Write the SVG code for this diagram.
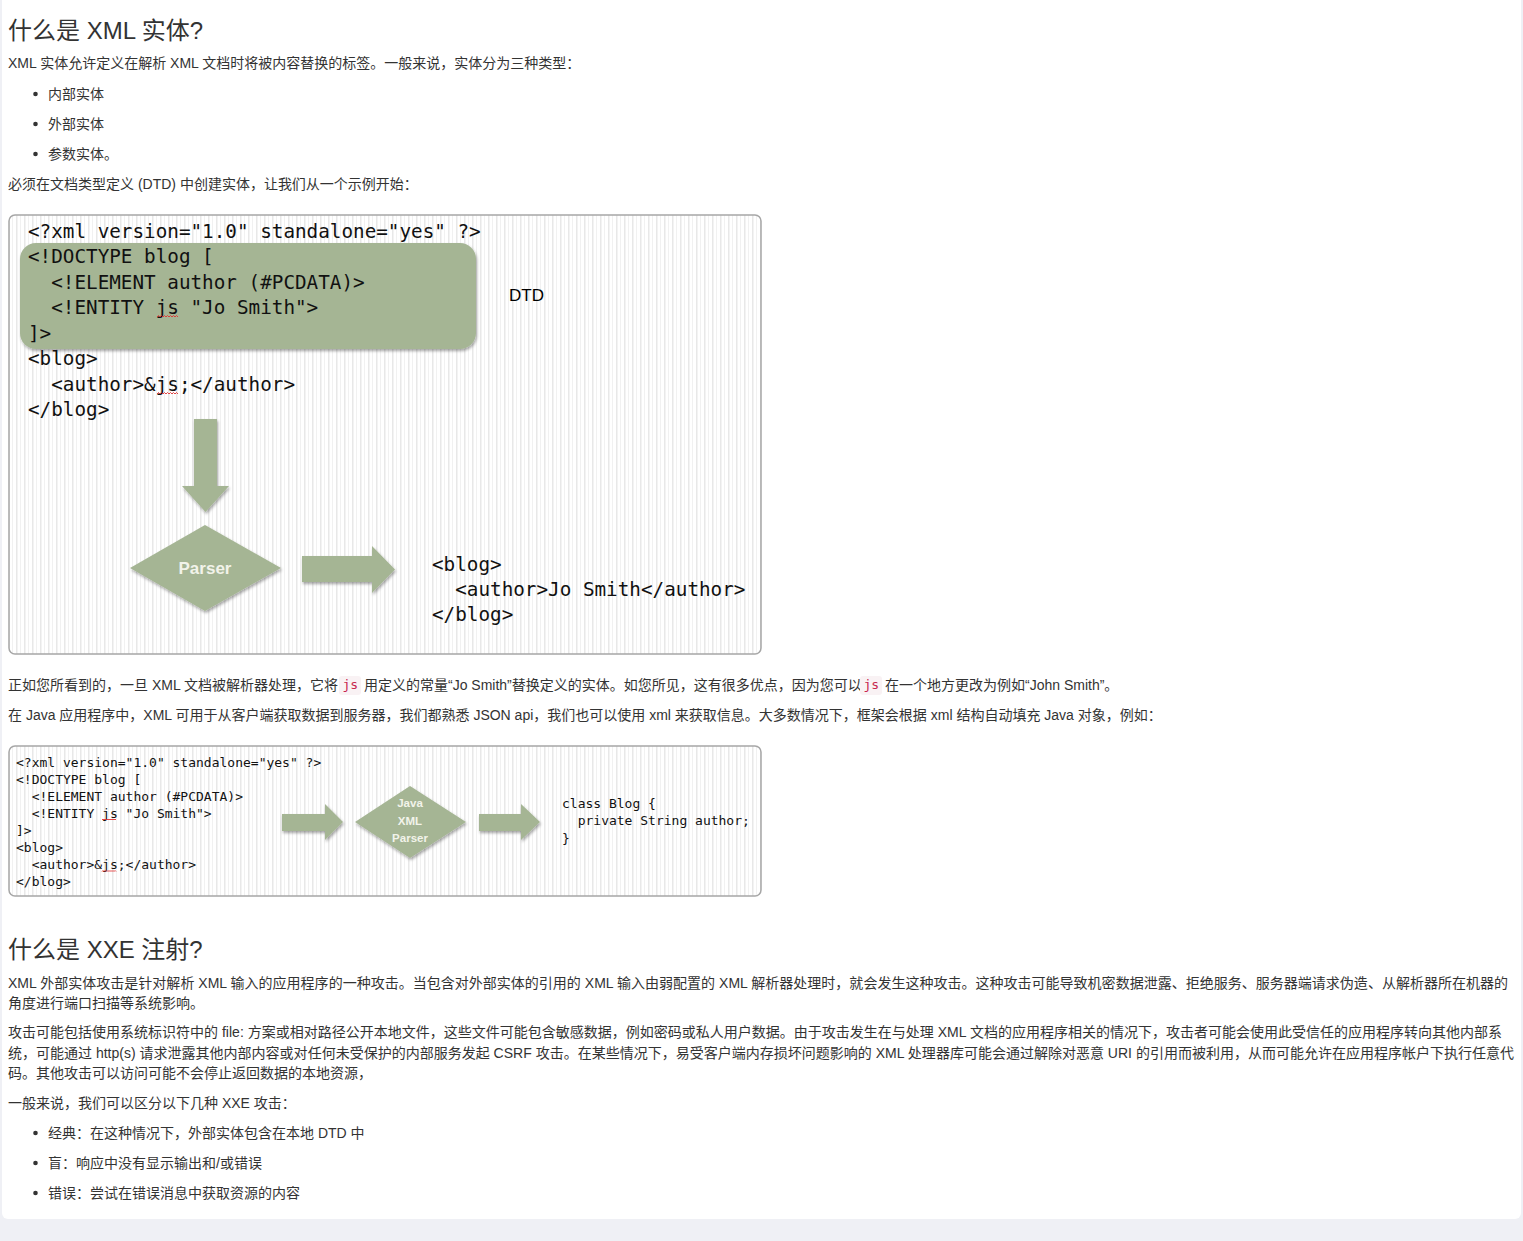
<svg xmlns="http://www.w3.org/2000/svg" width="1523" height="1241" viewBox="0 0 1523 1241">
<style>
.p{font-family:"Liberation Sans","Noto Sans CJK SC",sans-serif;font-size:14px;fill:#333}
.h{font-size:24px}
.m{font-family:"DejaVu Sans Mono","Liberation Mono",monospace;fill:#111}
.c1{font-size:19.3px}
.c2{font-size:13px}
.g{fill:#a5b594}
.lbl{font-family:"Liberation Sans",sans-serif;font-weight:bold;fill:#f2f3ea;text-anchor:middle}
.box{fill:url(#stripes);stroke:#a6a6a6;stroke-width:1.5}
.wavy{fill:none;stroke:#e03030;stroke-width:0.9}
.ic{font-family:"DejaVu Sans Mono","Liberation Mono",monospace;font-size:13px;fill:#c7254e}
.icbg{fill:#f9f2f4}
</style>
<defs>
<pattern id="stripes" patternUnits="userSpaceOnUse" width="8" height="10">
<rect width="8" height="10" fill="#fff"/>
<rect x="0" width="1.5" height="10" fill="#e8e8e8"/>
<rect x="4" width="1" height="10" fill="#f1f1f1"/>
</pattern>
<filter id="sh" x="-10%" y="-10%" width="125%" height="130%">
<feDropShadow dx="1" dy="2" stdDeviation="1.5" flood-color="#000" flood-opacity="0.35"/>
</filter>
</defs>
<rect width="1523" height="1241" fill="#eff0f5"/>
<path d="M2 0H1521V1213a6 6 0 0 1-6 6H8a6 6 0 0 1-6-6Z" fill="#fff"/>

<g id="intro">
<text class="p h" x="8" y="39">什么是 XML 实体?</text>
<text class="p" x="8" y="68">XML 实体允许定义在解析 XML 文档时将被内容替换的标签。一般来说，实体分为三种类型：</text>
<circle cx="35.5" cy="94" r="2.3" fill="#333"/>
<text class="p" x="48" y="99">内部实体</text>
<circle cx="35.5" cy="124" r="2.3" fill="#333"/>
<text class="p" x="48" y="129">外部实体</text>
<circle cx="35.5" cy="154" r="2.3" fill="#333"/>
<text class="p" x="48" y="159">参数实体。</text>
<text class="p" x="8" y="189">必须在文档类型定义 (DTD) 中创建实体，让我们从一个示例开始：</text>
</g>

<g id="diagram1">
<rect class="box" x="9" y="215" width="752" height="439" rx="6"/>
<g id="dtd-block">
<rect class="g" x="20" y="243" width="456" height="106" rx="16" filter="url(#sh)"/>
</g>
<g id="source-code" class="m c1">
<text x="28" y="238">&lt;?xml version="1.0" standalone="yes" ?&gt;</text>
<text x="28" y="263">&lt;!DOCTYPE blog [</text>
<text x="28" y="289" xml:space="preserve">  &lt;!ELEMENT author (#PCDATA)&gt;</text>
<text x="28" y="314" xml:space="preserve">  &lt;!ENTITY js "Jo Smith"&gt;</text>
<text x="28" y="340">]&gt;</text>
<text x="28" y="365">&lt;blog&gt;</text>
<text x="28" y="391" xml:space="preserve">  &lt;author&gt;&amp;js;&lt;/author&gt;</text>
<text x="28" y="416">&lt;/blog&gt;</text>
</g>
<path class="wavy" d="M157 317l1.5-1.5l1.5 1.5l1.5-1.5l1.5 1.5l1.5-1.5l1.5 1.5l1.5-1.5l1.5 1.5l1.5-1.5l1.5 1.5l1.5-1.5l1.5 1.5l1.5-1.5l1.5 1.5"/>
<path class="wavy" d="M157 394l1.5-1.5l1.5 1.5l1.5-1.5l1.5 1.5l1.5-1.5l1.5 1.5l1.5-1.5l1.5 1.5l1.5-1.5l1.5 1.5l1.5-1.5l1.5 1.5l1.5-1.5l1.5 1.5"/>
<g id="dtd-label">
<text x="509" y="301" font-family="Liberation Sans,sans-serif" font-size="17" fill="#000">DTD</text>
</g>
<g id="connectors1">
<path class="g" filter="url(#sh)" d="M194 419H217V486H229L205.5 512L182 486H194Z"/>
<path class="g" filter="url(#sh)" d="M302 556H372V546L395 569.5L372 593V582H302Z"/>
</g>
<g id="parser">
<path class="g" filter="url(#sh)" d="M205 525L281 568L205 611L130 568Z"/>
<text class="lbl" x="205" y="574" font-size="17">Parser</text>
</g>
<g id="output-code" class="m c1">
<text x="432" y="571">&lt;blog&gt;</text>
<text x="432" y="596" xml:space="preserve">  &lt;author&gt;Jo Smith&lt;/author&gt;</text>
<text x="432" y="621">&lt;/blog&gt;</text>
</g>
</g>

<g id="middle-text">
<text class="p" x="8" y="690">正如您所看到的，一旦 XML 文档被解析器处理，它将</text>
<rect class="icbg" x="339" y="676" width="22" height="19" rx="3"/>
<text class="ic" x="342.5" y="689">js</text>
<text class="p" x="364" y="690">用定义的常量“Jo Smith”替换定义的实体。如您所见，这有很多优点，因为您可以</text>
<rect class="icbg" x="860" y="676" width="22" height="19" rx="3"/>
<text class="ic" x="863.5" y="689">js</text>
<text class="p" x="885" y="690">在一个地方更改为例如“John Smith”。</text>
<text class="p" x="8" y="720">在 Java 应用程序中，XML 可用于从客户端获取数据到服务器，我们都熟悉 JSON api，我们也可以使用 xml 来获取信息。大多数情况下，框架会根据 xml 结构自动填充 Java 对象，例如：</text>
</g>

<g id="diagram2">
<rect class="box" x="9" y="746" width="752" height="150" rx="6"/>
<g id="xml-source" class="m c2">
<text x="16" y="766.5">&lt;?xml version="1.0" standalone="yes" ?&gt;</text>
<text x="16" y="783.6">&lt;!DOCTYPE blog [</text>
<text x="16" y="800.7" xml:space="preserve">  &lt;!ELEMENT author (#PCDATA)&gt;</text>
<text x="16" y="817.8" xml:space="preserve">  &lt;!ENTITY js "Jo Smith"&gt;</text>
<text x="16" y="834.9">]&gt;</text>
<text x="16" y="852">&lt;blog&gt;</text>
<text x="16" y="869.1" xml:space="preserve">  &lt;author&gt;&amp;js;&lt;/author&gt;</text>
<text x="16" y="886.2">&lt;/blog&gt;</text>
</g>
<path class="wavy" d="M102 820l1-1l1 1l1-1l1 1l1-1l1 1l1-1l1 1l1-1l1 1l1-1l1 1l1-1l1 1"/>
<path class="wavy" d="M102 871.5l1-1l1 1l1-1l1 1l1-1l1 1l1-1l1 1l1-1l1 1l1-1l1 1l1-1l1 1"/>
<g id="connectors2">
<path class="g" filter="url(#sh)" d="M282 814H325V804L343 822L325 840V831H282Z"/>
<path class="g" filter="url(#sh)" d="M479 814H521V804L540 822L521 840V831H479Z"/>
</g>
<g id="java-parser">
<path class="g" filter="url(#sh)" d="M410 786L466 822L410 858L355 822Z"/>
<text class="lbl" x="410" y="807" font-size="11.5">Java</text>
<text class="lbl" x="410" y="825" font-size="11.5">XML</text>
<text class="lbl" x="410" y="842" font-size="11.5">Parser</text>
</g>
<g id="java-class" class="m c2">
<text x="562" y="807.5">class Blog {</text>
<text x="562" y="824.5" xml:space="preserve">  private String author;</text>
<text x="562" y="842.5">}</text>
</g>
</g>

<g id="xxe">
<text class="p h" x="8" y="958">什么是 XXE 注射?</text>
<text class="p" x="8" y="988" textLength="1500" lengthAdjust="spacing">XML 外部实体攻击是针对解析 XML 输入的应用程序的一种攻击。当包含对外部实体的引用的 XML 输入由弱配置的 XML 解析器处理时，就会发生这种攻击。这种攻击可能导致机密数据泄露、拒绝服务、服务器端请求伪造、从解析器所在机器的</text>
<text class="p" x="8" y="1008">角度进行端口扫描等系统影响。</text>
<text class="p" x="8" y="1037" textLength="1494" lengthAdjust="spacing">攻击可能包括使用系统标识符中的 file: 方案或相对路径公开本地文件，这些文件可能包含敏感数据，例如密码或私人用户数据。由于攻击发生在与处理 XML 文档的应用程序相关的情况下，攻击者可能会使用此受信任的应用程序转向其他内部系</text>
<text class="p" x="8" y="1058" textLength="1506" lengthAdjust="spacing">统，可能通过 http(s) 请求泄露其他内部内容或对任何未受保护的内部服务发起 CSRF 攻击。在某些情况下，易受客户端内存损坏问题影响的 XML 处理器库可能会通过解除对恶意 URI 的引用而被利用，从而可能允许在应用程序帐户下执行任意代</text>
<text class="p" x="8" y="1078">码。其他攻击可以访问可能不会停止返回数据的本地资源，</text>
<text class="p" x="8" y="1108">一般来说，我们可以区分以下几种 XXE 攻击：</text>
<circle cx="35.5" cy="1133" r="2.3" fill="#333"/>
<text class="p" x="48" y="1138">经典：在这种情况下，外部实体包含在本地 DTD 中</text>
<circle cx="35.5" cy="1163" r="2.3" fill="#333"/>
<text class="p" x="48" y="1168">盲：响应中没有显示输出和/或错误</text>
<circle cx="35.5" cy="1193" r="2.3" fill="#333"/>
<text class="p" x="48" y="1198">错误：尝试在错误消息中获取资源的内容</text>
</g>
</svg>
